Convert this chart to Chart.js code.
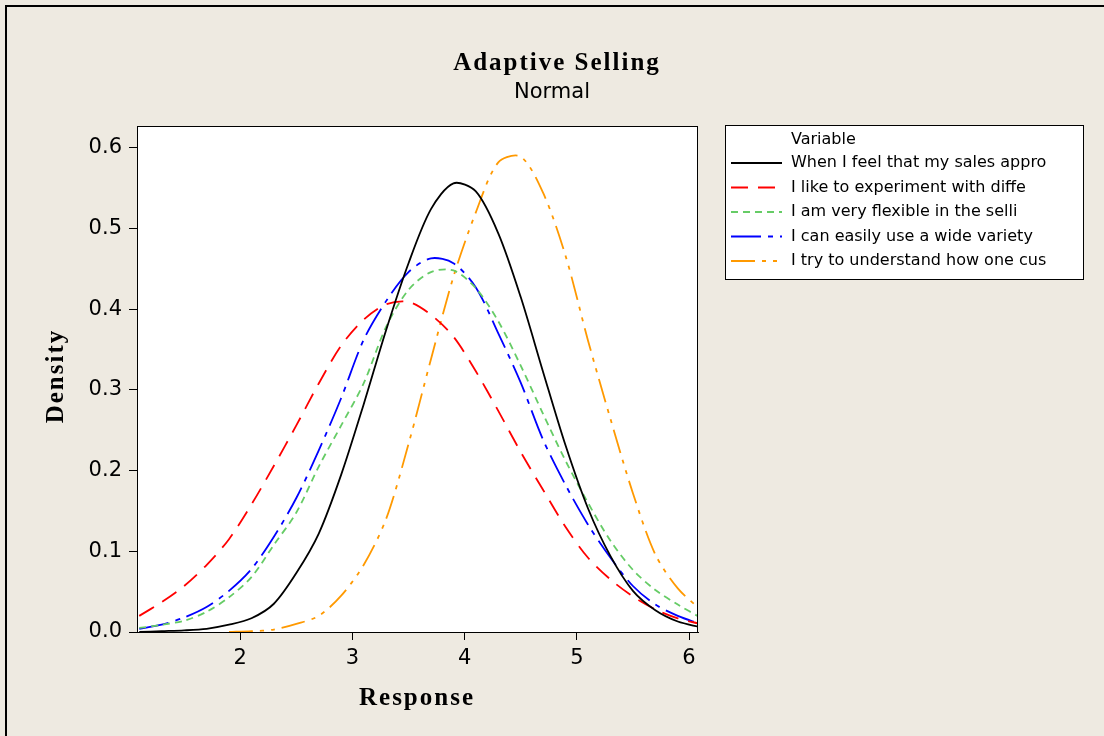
<!DOCTYPE html>
<html>
<head>
<meta charset="utf-8">
<script src="https://cdn.jsdelivr.net/npm/chart.js@4"></script>
<style>
  body { margin: 0; background: #eeeae1; }
  #frame { position: absolute; left: 5px; top: 5px; width: 1200px; height: 800px;
           border-top: 2px solid #000; border-left: 2px solid #000; }
  #myChart { position: absolute; left: 0; top: 0; }
</style>
</head>
<body>
<div id="frame"></div>
<canvas id="myChart" width="1104" height="736"></canvas>
<script>
// values
const responses = [1.1, 1.3, 1.5, 1.7, 1.9, 2.1, 2.3, 2.5, 2.7, 2.9, 3.1, 3.3, 3.5, 3.7, 3.9, 4.1, 4.3, 4.5, 4.7, 4.9, 5.1, 5.3, 5.5, 5.7, 5.9, 6.1];
const salesApproach = [0.000, 0.001, 0.002, 0.004, 0.009, 0.017, 0.035, 0.073, 0.122, 0.195, 0.282, 0.374, 0.457, 0.524, 0.556, 0.546, 0.494, 0.415, 0.322, 0.231, 0.153, 0.094, 0.051, 0.027, 0.013, 0.006];
const experiment = [0.020, 0.037, 0.057, 0.083, 0.115, 0.158, 0.206, 0.256, 0.308, 0.355, 0.387, 0.406, 0.409, 0.393, 0.366, 0.323, 0.274, 0.223, 0.176, 0.130, 0.092, 0.065, 0.044, 0.028, 0.017, 0.010];
const flexible = [0.005, 0.009, 0.014, 0.025, 0.043, 0.068, 0.108, 0.148, 0.205, 0.256, 0.308, 0.378, 0.424, 0.446, 0.448, 0.426, 0.385, 0.330, 0.270, 0.212, 0.160, 0.113, 0.077, 0.052, 0.034, 0.018];
const wideVariety = [0.004, 0.009, 0.018, 0.031, 0.051, 0.078, 0.118, 0.166, 0.225, 0.290, 0.362, 0.410, 0.446, 0.463, 0.457, 0.427, 0.370, 0.309, 0.238, 0.182, 0.133, 0.092, 0.057, 0.034, 0.020, 0.010];
const understand = [null, null, null, null, 0.000, 0.001, 0.003, 0.010, 0.020, 0.045, 0.083, 0.140, 0.233, 0.338, 0.440, 0.520, 0.582, 0.589, 0.544, 0.466, 0.361, 0.264, 0.172, 0.096, 0.054, 0.028];

const seriesLabels = [
    'When I feel that my sales appro',
    'I like to experiment with diffe',
    'I am very flexible in the selli',
    'I can easily use a wide variety',
    'I try to understand how one cus'
];
const xTicks = [2, 3, 4, 5, 6];
const yTicks = [0.0, 0.1, 0.2, 0.3, 0.4, 0.5, 0.6];
const chartTitle = 'Adaptive Selling';
const chartSubtitle = 'Normal';
const xTitle = 'Response';
const yTitle = 'Density';
const legendTitle = 'Variable';

function points(values) {
    return responses.map((x, i) => ({ x: x, y: values[i] }));
}

const framePlugin = {
    id: 'frame',
    beforeDraw(chart) {
        let ctx = chart.ctx;
        let a = chart.chartArea;
        ctx.save();
        ctx.fillStyle = '#fff';
        ctx.fillRect(a.left, a.top, a.right - a.left, a.bottom - a.top);
        ctx.restore();
    },
    afterDraw(chart) {
        let ctx = chart.ctx;
        let a = chart.chartArea;
        ctx.save();
        ctx.strokeStyle = '#000';
        ctx.lineWidth = 1;
        ctx.strokeRect(a.left + 0.5, a.top + 0.5, a.right - a.left - 1, a.bottom - a.top);

        // titles
        ctx.fillStyle = '#000';
        ctx.textAlign = 'center';
        ctx.textBaseline = 'alphabetic';
        ctx.font = 'bold 25px "Liberation Serif"';
        ctx.letterSpacing = '2px';
        ctx.fillText(chartTitle, 557, 70);
        ctx.fillText(xTitle, 417, 705);
        ctx.save();
        ctx.translate(63, 376);
        ctx.rotate(-Math.PI / 2);
        ctx.fillText(yTitle, 0, 0);
        ctx.restore();
        ctx.letterSpacing = '0px';
        ctx.font = '21px "DejaVu Sans"';
        ctx.fillText(chartSubtitle, 552, 98);

        // legend box
        ctx.fillStyle = '#fff';
        ctx.fillRect(725, 125, 359, 155);
        ctx.strokeRect(725.5, 125.5, 358, 154);
        ctx.fillStyle = '#000';
        ctx.textAlign = 'left';
        ctx.textBaseline = 'middle';
        ctx.font = '16px "DejaVu Sans"';
        ctx.fillText(legendTitle, 791, 140);
        chart.data.datasets.forEach((ds, i) => {
            let y = 163 + i * 24.5;
            ctx.strokeStyle = ds.borderColor;
            ctx.lineWidth = ds.borderWidth;
            ctx.setLineDash(ds.borderDash);
            ctx.beginPath();
            ctx.moveTo(731, y);
            ctx.lineTo(782, y);
            ctx.stroke();
            ctx.setLineDash([]);
            ctx.fillText(ds.label, 791, y);
        });
        ctx.restore();
    }
};

var ctx = document.getElementById('myChart').getContext('2d');
var myChart = new Chart(ctx, {
    type: 'line',
    data: {
        datasets: [
            { label: seriesLabels[0], data: points(salesApproach), borderColor: '#000000', borderWidth: 1.8, borderDash: [] },
            { label: seriesLabels[1], data: points(experiment), borderColor: '#ff0000', borderWidth: 1.8, borderDash: [17, 10] },
            { label: seriesLabels[2], data: points(flexible), borderColor: '#66cc66', borderWidth: 1.8, borderDash: [7, 5] },
            { label: seriesLabels[3], data: points(wideVariety), borderColor: '#0000ff', borderWidth: 1.8, borderDash: [30, 7, 5, 7] },
            { label: seriesLabels[4], data: points(understand), borderColor: '#ff9900', borderWidth: 1.8, borderDash: [24, 7, 4, 7, 4, 7] }
        ]
    },
    options: {
        responsive: false,
        animation: false,
        layout: { padding: { top: 126, right: 406, left: 0, bottom: 0 } },
        elements: { point: { radius: 0 }, line: { tension: 0.3 } },
        plugins: { legend: { display: false }, title: { display: false }, tooltip: { enabled: false } },
        scales: {
            x: {
                type: 'linear',
                min: 1.08,
                max: 6.08,
                afterFit: s => { s.height = 104; },
                afterBuildTicks: s => { s.ticks = xTicks.map(v => ({ value: v })); },
                ticks: { color: '#000', padding: 6, font: { family: 'DejaVu Sans', size: 21 }, maxRotation: 0 },
                grid: { drawOnChartArea: false, tickLength: 8, color: '#000' },
                border: { color: '#000' }
            },
            y: {
                min: 0,
                max: 0.627,
                afterFit: s => { s.width = 137; },
                afterBuildTicks: s => { s.ticks = yTicks.map(v => ({ value: v })); },
                ticks: { color: '#000', padding: 7, font: { family: 'DejaVu Sans', size: 21 }, callback: v => v.toFixed(1) },
                grid: { drawOnChartArea: false, tickLength: 8, color: '#000' },
                border: { color: '#000' }
            }
        }
    },
    plugins: [framePlugin]
});
</script>
</body>
</html>
